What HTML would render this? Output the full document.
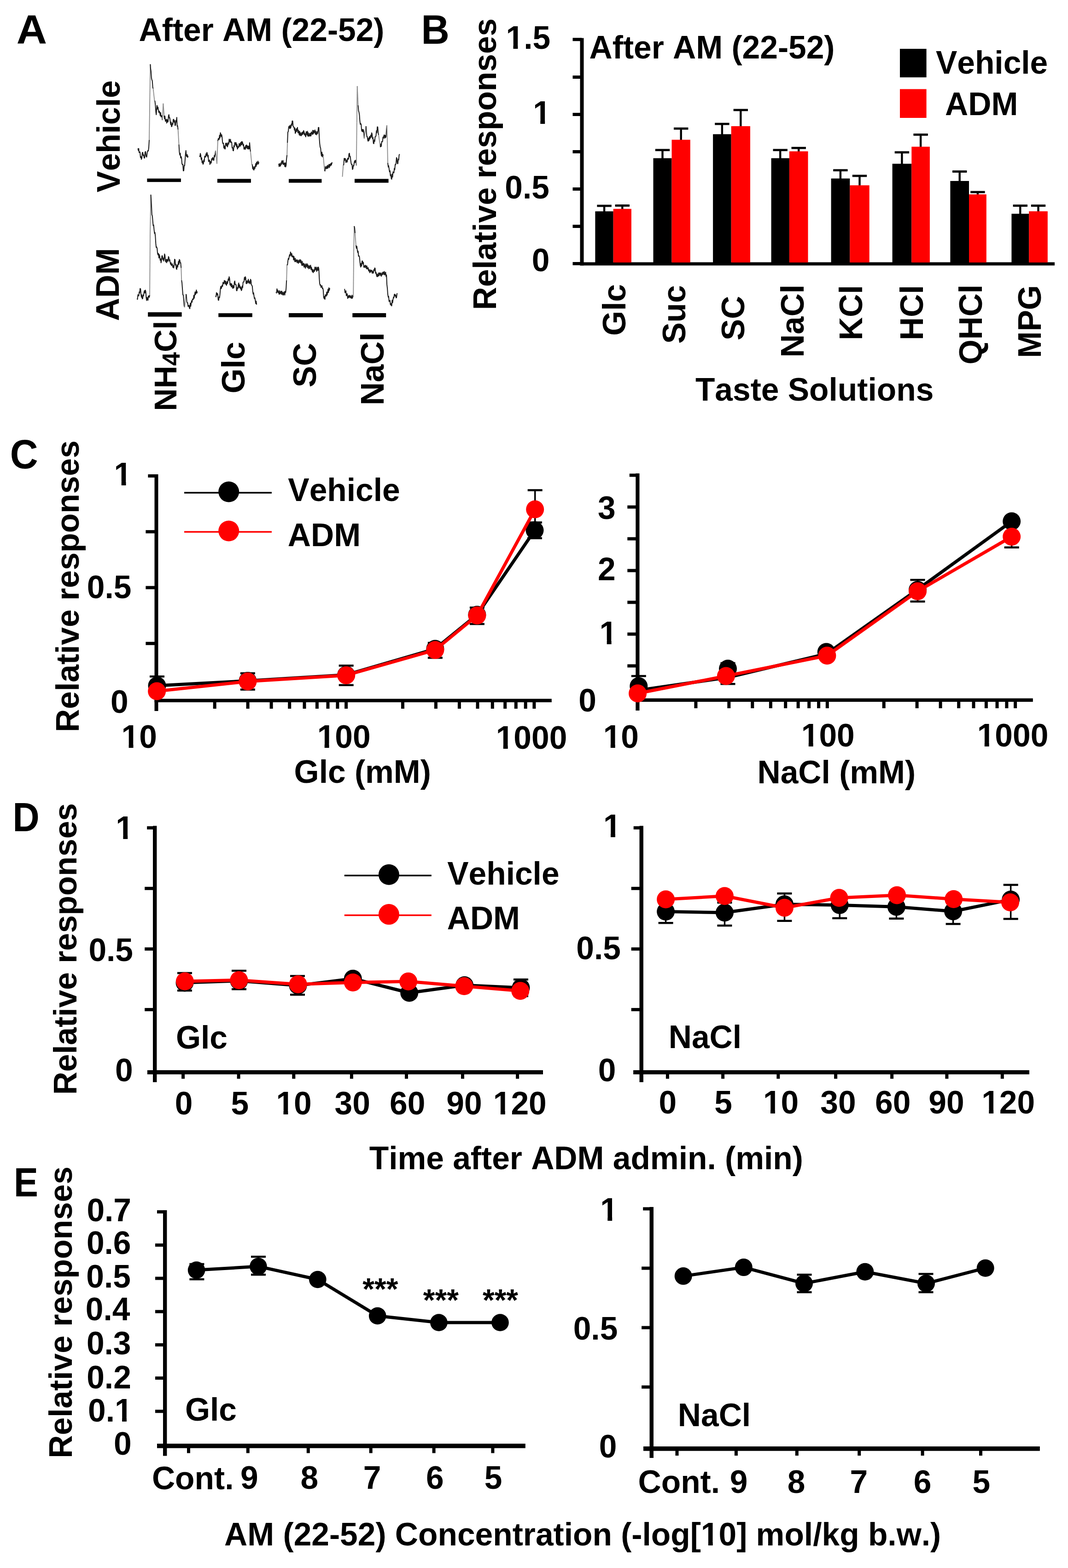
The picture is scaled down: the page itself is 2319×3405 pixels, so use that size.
<!DOCTYPE html>
<html><head><meta charset="utf-8"><style>
html,body{margin:0;padding:0;background:#fff;overflow:hidden;}
svg{display:block;}
text{font-family:"Liberation Sans",Arial,sans-serif;font-weight:bold;font-kerning:none;}
</style></head><body>
<svg width="2319" height="3405" viewBox="0 0 2319 3405">
<rect width="2319" height="3405" fill="#fff"/>
<text transform="translate(35.81,94.7) scale(1.0317,1)" font-size="89">A</text>
<text x="301.6" y="88.8" font-size="69.5" fill="#000">After AM (22-52)</text>
<text transform="translate(259.8,417.7) rotate(-90)" font-size="69.5">Vehicle</text>
<text transform="translate(257.5,696.9) rotate(-90)" font-size="69.5">ADM</text>
<polyline points="299.5,322.3 300.4,326.9 301.2,322.5 302.1,331.2 303.0,330.0 304.0,330.2 305.0,341.9 306.0,339.8 307.0,346.0 308.0,343.0 309.0,331.5 310.0,331.0 311.0,337.8 312.0,336.3 313.0,343.0 314.0,343.3 315.0,330.3 316.0,329.0 317.2,339.5 318.5,341.0 319.8,330.6 321.0,327.0 322.0,327.9 323.0,321.0 324.0,304.0" fill="none" stroke="#1a1a1a" stroke-width="2.0" stroke-linejoin="round"/>
<polyline points="324.0,304.0 326.4,139.5" fill="none" stroke="#8a8a8a" stroke-width="1.8" stroke-linejoin="round"/>
<polyline points="326.4,139.5 327.0,149.0 327.9,154.7 328.9,169.3 329.8,173.6 330.7,175.3 331.7,189.8 332.6,192.5" fill="none" stroke="#1a1a1a" stroke-width="2.0" stroke-linejoin="round"/>
<polyline points="332.6,192.5 335.5,219.0" fill="none" stroke="#8a8a8a" stroke-width="1.8" stroke-linejoin="round"/>
<polyline points="335.5,219.0 336.4,219.5 337.4,228.5 338.4,242.8 339.3,249.0 340.1,236.8 341.0,229.0 342.0,236.9 343.0,232.6 344.0,240.0 345.0,244.6 346.0,241.2 347.0,245.0 347.9,251.1 348.8,244.6 349.7,253.7 350.6,251.0 351.6,251.4 352.5,261.0" fill="none" stroke="#1a1a1a" stroke-width="2.0" stroke-linejoin="round"/>
<polyline points="352.5,261.0 354.4,224.8" fill="none" stroke="#8a8a8a" stroke-width="1.8" stroke-linejoin="round"/>
<polyline points="354.4,224.8 356.3,251.0" fill="none" stroke="#8a8a8a" stroke-width="1.8" stroke-linejoin="round"/>
<polyline points="356.3,251.0 357.2,258.1 358.1,252.2 359.1,263.2 360.0,263.0 361.0,259.1 362.0,267.3 363.0,259.7 364.0,265.0 364.9,264.3 365.8,252.0 366.7,249.0 367.7,256.1 368.6,255.7 369.6,263.0 370.6,270.6 371.5,265.2 372.4,275.1 373.4,274.0 374.3,267.3 375.3,270.0 376.2,259.6 377.2,259.0 378.1,265.3 379.1,261.7 380.1,272.5 381.0,272.0 381.9,261.6 382.9,264.7 383.8,255.0 384.7,274.0 385.6,273.0 386.6,281.6" fill="none" stroke="#1a1a1a" stroke-width="2.0" stroke-linejoin="round"/>
<polyline points="386.6,281.6 388.5,313.8" fill="none" stroke="#8a8a8a" stroke-width="1.8" stroke-linejoin="round"/>
<polyline points="388.5,313.8 389.4,329.8 390.4,336.6 391.4,332.8 392.3,342.9 393.3,340.0 394.2,343.3 395.2,356.2 396.1,357.4 397.1,356.9 398.0,371.0 399.0,370.7 399.9,359.4 400.9,359.7 401.8,348.0 402.8,334.9 403.7,327.0 404.6,338.0 405.6,340.0 406.5,335.7 407.5,341.8 408.4,338.4" fill="none" stroke="#1a1a1a" stroke-width="2.0" stroke-linejoin="round"/>
<polyline points="433.1,338.4 434.1,340.3 435.0,333.2 436.0,337.5 436.9,346.3 437.9,342.8 438.8,353.3 439.8,349.5 440.7,356.5 441.6,355.7 442.6,347.2 443.5,351.1 444.5,339.0 445.4,340.4 446.3,341.2 447.3,333.9 448.2,338.5 449.2,330.9 450.1,333.7 451.1,340.7 452.0,337.1 452.9,350.7 453.9,349.8 454.8,347.5 455.8,357.2 456.8,350.5 457.7,354.6 458.6,353.8 459.6,344.7 460.6,347.5 461.5,342.3 462.4,342.6 463.4,348.0 464.3,347.9 465.3,337.5 466.2,340.5 467.2,334.7 468.1,327.0" fill="none" stroke="#1a1a1a" stroke-width="2.0" stroke-linejoin="round"/>
<polyline points="468.1,327.0 471.0,355.5" fill="none" stroke="#8a8a8a" stroke-width="1.8" stroke-linejoin="round"/>
<polyline points="471.0,355.5 472.9,306.2" fill="none" stroke="#8a8a8a" stroke-width="1.8" stroke-linejoin="round"/>
<polyline points="472.9,306.2 473.9,301.3 474.8,300.6 475.7,303.3 476.7,293.8 477.6,299.7 478.6,288.2 479.5,291.0 480.4,296.7 481.4,292.8 482.3,298.7 483.2,308.9 484.2,311.9 485.1,310.8 486.1,321.4 487.1,316.8 488.0,323.3 489.0,323.4 489.9,310.9 490.9,311.9 491.8,316.4 492.8,310.5 493.8,318.9 494.7,315.7 495.6,310.1 496.6,312.9 497.6,302.2 498.5,304.3 499.4,308.8 500.4,302.6 501.3,309.2 502.2,308.1 503.1,309.6 504.1,321.3 505.1,320.2 506.0,327.0 507.0,327.4 507.9,316.3 508.9,319.0 509.8,309.5 510.8,310.0 511.8,315.3 512.7,309.8 513.6,318.8 514.6,313.5 515.5,323.7 516.5,321.4 517.4,317.4 518.4,319.8 519.3,311.7 520.2,313.8 521.2,318.1 522.1,310.0 523.1,315.5 524.0,307.9 525.0,314.0 525.9,307.5 526.9,310.0 527.9,316.3 528.8,313.5 529.8,323.8 530.7,323.3 531.7,319.4 532.6,324.5 533.5,316.1 534.5,321.6 535.5,314.8 536.4,317.6 537.3,322.9 538.3,316.9 539.2,323.7 540.2,317.7 541.1,323.3 542.0,310.0 543.0,322.2 543.9,329.0" fill="none" stroke="#1a1a1a" stroke-width="2.0" stroke-linejoin="round"/>
<polyline points="543.9,329.0 546.8,357.4" fill="none" stroke="#8a8a8a" stroke-width="1.8" stroke-linejoin="round"/>
<polyline points="546.8,357.4 547.8,357.7 548.7,366.4 549.6,361.9 550.6,368.8 551.5,369.2 552.5,362.0 553.4,366.1 554.3,361.2 555.3,355.2 556.2,361.5 557.2,352.1 558.1,357.6 559.1,353.6 560.1,350.0 561.0,356.3 562.0,351.7" fill="none" stroke="#1a1a1a" stroke-width="2.0" stroke-linejoin="round"/>
<polyline points="605.2,355.5 606.1,361.7 607.1,355.3 608.0,360.2 608.9,360.8 609.9,353.7 610.8,357.5 611.8,349.3 612.7,349.8 613.7,355.9 614.6,348.6 615.5,357.4 616.5,356.5 617.5,354.0 618.4,361.7 619.4,353.7 620.3,362.4 621.3,358.4 622.2,344.5 623.2,336.6" fill="none" stroke="#1a1a1a" stroke-width="2.0" stroke-linejoin="round"/>
<polyline points="623.2,336.6 624.1,310.0" fill="none" stroke="#8a8a8a" stroke-width="1.8" stroke-linejoin="round"/>
<polyline points="624.1,310.0 625.0,287.3 626.0,285.3 626.9,275.6 627.9,274.0 628.9,278.9 629.8,272.1 630.8,278.5 631.7,275.9 632.7,269.3 633.6,272.6 634.5,262.8 635.5,262.7 636.5,274.1 637.4,275.9 638.3,275.7 639.3,282.5 640.2,277.9 641.2,289.7 642.1,287.3 643.1,279.8 644.0,285.5 645.0,279.7 645.9,276.7 646.9,288.3 647.8,282.7 648.7,287.3 649.7,292.7 650.6,285.1 651.6,294.7 652.5,288.3 653.5,293.0 654.4,294.8 655.4,287.8 656.3,292.4 657.3,286.5 658.2,291.3 659.2,283.6 660.1,285.4 661.1,293.0 662.0,289.6 663.0,294.9 663.9,297.1 664.9,285.8 665.8,287.3 666.8,293.3 667.7,285.1 668.6,295.8 669.6,288.6 670.5,295.7 671.5,294.9 672.5,289.7 673.4,295.5 674.4,289.2 675.3,295.1 676.2,286.6 677.2,289.2 678.2,291.8 679.1,283.1 680.0,291.1 681.0,283.6 682.0,288.8 682.9,285.4 683.8,282.2 684.8,291.7 685.7,285.3 686.6,291.1 687.5,292.7 688.5,285.7 689.5,290.4 690.4,285.4 691.3,276.7 692.3,276.9 693.3,298.7 694.2,311.6 695.2,319.5 696.2,321.7 697.1,332.7 698.0,338.6 699.0,330.6 699.9,340.6 700.9,335.2 701.8,338.4" fill="none" stroke="#1a1a1a" stroke-width="2.0" stroke-linejoin="round"/>
<polyline points="701.8,338.4 704.6,368.8" fill="none" stroke="#8a8a8a" stroke-width="1.8" stroke-linejoin="round"/>
<polyline points="704.6,368.8 705.6,371.4 706.5,361.7 707.5,365.0 708.5,366.5 709.4,360.9 710.4,365.9 711.3,358.9 712.2,365.1 713.2,361.2 714.3,357.0 715.3,363.9 716.4,356.7 717.5,360.1 718.5,354.7 719.6,358.6 720.6,353.2 721.7,354.6" fill="none" stroke="#1a1a1a" stroke-width="2.0" stroke-linejoin="round"/>
<polyline points="743.5,383.9 745.4,357.4" fill="none" stroke="#8a8a8a" stroke-width="1.8" stroke-linejoin="round"/>
<polyline points="745.4,357.4 746.3,357.9 747.3,344.0 748.2,344.1 749.2,348.3 750.1,344.4 751.0,352.7 752.0,351.7 753.0,347.3 753.9,351.9 754.8,343.5 755.8,346.0 756.8,345.4 757.7,334.1 758.7,332.8 759.6,340.4 760.6,339.9 761.5,348.0 762.5,355.1 763.4,357.4 764.3,356.9 765.3,367.9 766.2,366.9 767.2,359.3 768.1,360.3 769.1,353.6 770.0,349.2 771.0,353.0 771.9,348.0 772.8,349.8 773.8,359.3" fill="none" stroke="#1a1a1a" stroke-width="2.0" stroke-linejoin="round"/>
<polyline points="773.8,359.3 774.8,266.4" fill="none" stroke="#8a8a8a" stroke-width="1.8" stroke-linejoin="round"/>
<polyline points="774.8,266.4 775.7,186.9" fill="none" stroke="#8a8a8a" stroke-width="1.8" stroke-linejoin="round"/>
<polyline points="775.7,186.9 777.6,228.5" fill="none" stroke="#8a8a8a" stroke-width="1.8" stroke-linejoin="round"/>
<polyline points="777.6,228.5 778.5,240.4 779.5,243.7 780.5,250.1 781.4,262.7 782.3,269.9 783.3,268.3 784.2,270.1 785.2,283.0 786.1,285.4 787.1,281.0 788.0,286.4 789.0,281.6 790.0,287.0 790.9,300.6" fill="none" stroke="#1a1a1a" stroke-width="2.0" stroke-linejoin="round"/>
<polyline points="790.9,300.6 794.7,274.0" fill="none" stroke="#8a8a8a" stroke-width="1.8" stroke-linejoin="round"/>
<polyline points="794.7,274.0 795.7,288.7 796.6,296.8 797.5,296.5 798.5,304.3 799.4,306.7 800.4,299.7 801.3,305.1 802.2,296.5 803.2,301.8 804.1,298.7 805.0,293.5 806.0,298.2 807.0,288.4 807.9,291.1 808.9,301.1 809.8,298.4 810.8,311.4 811.7,311.9 812.7,303.8 813.6,307.1 814.5,297.2 815.5,296.8 816.4,295.0 817.4,284.0 818.3,288.2 819.3,275.4 820.2,275.9 821.2,288.8 822.1,293.0" fill="none" stroke="#1a1a1a" stroke-width="2.0" stroke-linejoin="round"/>
<polyline points="822.1,293.0 825.9,319.5" fill="none" stroke="#8a8a8a" stroke-width="1.8" stroke-linejoin="round"/>
<polyline points="825.9,319.5 826.9,312.6 827.8,318.0 828.8,307.3 829.7,308.1 830.7,307.1 831.6,297.7 832.5,300.2 833.5,294.9 834.4,292.8 835.4,300.0 836.3,293.9 837.3,298.7 838.2,296.8 839.2,282.2 840.1,272.1" fill="none" stroke="#1a1a1a" stroke-width="2.0" stroke-linejoin="round"/>
<polyline points="840.1,272.1 841.1,310.0" fill="none" stroke="#8a8a8a" stroke-width="1.8" stroke-linejoin="round"/>
<polyline points="841.1,310.0 842.0,353.6" fill="none" stroke="#8a8a8a" stroke-width="1.8" stroke-linejoin="round"/>
<polyline points="842.0,353.6 843.0,362.7 843.9,359.9 844.9,366.9 845.8,373.1 846.8,370.7 847.7,381.7 848.7,379.0 849.6,387.7 850.5,389.1 851.5,377.9 852.4,384.6 853.4,373.3 854.3,374.4 855.3,375.4 856.2,365.5 857.2,368.5 858.1,357.3 859.1,357.4 860.0,353.9 861.0,342.2 861.9,344.3 862.9,355.3 863.8,355.5 864.8,345.5 865.7,347.3 866.6,336.9 867.6,334.7" fill="none" stroke="#1a1a1a" stroke-width="2.0" stroke-linejoin="round"/>
<polyline points="297.6,648.2 298.5,650.0 299.5,640.0 300.4,642.6 301.4,642.3 302.3,634.0 303.3,636.2 304.2,626.6 305.2,627.4 306.1,638.8 307.1,645.4 308.0,640.3 308.9,649.0 309.9,648.2 310.8,640.6 311.8,642.5 312.7,635.0 313.6,631.3 314.6,636.3 315.6,630.1 316.5,633.1 317.5,646.4 318.4,652.6 319.4,645.7 320.3,650.2 321.3,651.9 322.2,642.7 323.2,642.6 324.1,645.7 325.1,640.7" fill="none" stroke="#1a1a1a" stroke-width="2.0" stroke-linejoin="round"/>
<polyline points="325.1,640.7 326.0,509.9" fill="none" stroke="#8a8a8a" stroke-width="1.8" stroke-linejoin="round"/>
<polyline points="326.0,509.9 327.5,422.7" fill="none" stroke="#8a8a8a" stroke-width="1.8" stroke-linejoin="round"/>
<polyline points="327.5,422.7 328.8,443.6 329.8,466.3 330.8,468.7 331.7,479.6 332.6,489.9 333.6,488.6 334.5,498.5 335.5,507.0 336.4,504.7 337.4,513.7 338.3,528.9 339.2,537.3 340.2,536.4 341.2,539.7 342.1,550.1 343.1,553.5 344.1,550.2 345.0,560.1 345.9,552.8 346.9,557.3 347.8,565.1 348.8,562.0 349.7,570.6 350.6,565.6 351.6,555.4 352.6,555.4 353.5,563.7 354.4,560.2 355.4,566.8 356.4,562.1 357.3,551.6 358.2,554.6 359.2,567.1 360.1,568.7 361.1,563.4 362.0,570.6 362.9,563.2 363.9,566.8 364.8,567.5 365.8,557.2 366.7,559.2 367.7,566.8 368.6,564.0 369.6,570.6 370.6,574.2 371.5,570.4 372.4,576.8 373.4,574.3 374.3,573.1 375.3,580.6 376.2,576.9 377.2,581.9 378.1,575.4 379.1,563.0 380.1,563.9 381.0,575.8 381.9,573.6 382.9,583.8 383.8,584.9 384.8,575.3 385.7,580.1 386.6,574.3 387.6,567.4 388.5,574.1 389.4,563.6 390.4,564.9 391.4,571.2 392.3,570.6 393.3,581.9" fill="none" stroke="#1a1a1a" stroke-width="2.0" stroke-linejoin="round"/>
<polyline points="393.3,581.9 394.2,608.5" fill="none" stroke="#8a8a8a" stroke-width="1.8" stroke-linejoin="round"/>
<polyline points="394.2,608.5 395.1,613.8 396.1,627.4 397.1,640.2 398.0,640.6 399.0,652.0 399.9,663.8 400.9,667.2" fill="none" stroke="#1a1a1a" stroke-width="2.0" stroke-linejoin="round"/>
<polyline points="400.9,667.2 403.7,638.8" fill="none" stroke="#8a8a8a" stroke-width="1.8" stroke-linejoin="round"/>
<polyline points="403.7,638.8 404.6,640.2 405.6,654.8 406.5,657.7 407.5,657.5 408.4,665.5 409.4,665.3 410.4,663.0 411.3,669.1 412.2,670.3 413.2,658.5 414.2,665.1 415.1,657.7 416.1,653.1 417.0,656.5 417.9,649.3 418.9,650.2 419.8,650.4 420.8,641.3 421.7,647.7 422.6,640.7 423.6,634.1 424.5,639.7 425.5,635.0 426.4,629.8 427.4,636.7 428.3,633.1" fill="none" stroke="#1a1a1a" stroke-width="2.0" stroke-linejoin="round"/>
<polyline points="468.1,642.6 469.1,644.4 470.0,635.6 470.9,640.6 471.9,636.9 472.9,639.7 473.8,651.5 474.8,652.0 475.7,644.7 476.7,646.3 477.6,638.8 478.6,626.5 479.5,621.7 480.4,626.7 481.4,623.6 482.3,619.2 483.3,621.9 484.2,613.2 485.2,614.1 486.1,616.3 487.1,608.9 488.0,610.3 489.0,616.6 489.9,610.5 490.9,617.9 491.8,619.6 492.8,611.4 493.8,616.0 494.7,612.2 495.6,605.6 496.6,608.7 497.5,600.9 498.5,604.9 499.4,618.2 500.4,619.8 501.3,615.5 502.2,623.0 503.2,616.4 504.1,621.7 505.1,626.1 506.0,619.9 507.0,625.5 507.9,624.7 508.9,612.5 509.8,610.3 510.8,618.1 511.7,617.9 512.7,618.4 513.6,631.2 514.6,631.2 515.5,624.0 516.5,626.6 517.4,617.9 518.4,614.4 519.3,624.8 520.2,618.6 521.2,623.6 522.2,627.4 523.1,623.0 524.0,630.9 525.0,629.3 526.0,620.9 526.9,624.8 527.8,612.8 528.8,612.2 529.8,611.9 530.7,602.6 531.6,607.6 532.6,600.9 533.5,603.4 534.5,615.6 535.4,616.0 536.3,610.1 537.3,614.6 538.2,610.3 539.2,606.5 540.1,614.6 541.0,610.2 542.0,614.1 543.0,616.4 543.9,606.6 544.9,608.5 545.8,617.8 546.8,619.8 547.8,621.6 548.7,631.2 549.6,638.4 550.6,635.9 551.5,642.6 552.4,648.3 553.4,646.7 554.3,652.0 555.3,659.3 556.2,654.1 557.2,661.5" fill="none" stroke="#1a1a1a" stroke-width="2.0" stroke-linejoin="round"/>
<polyline points="599.5,634.0 600.4,636.4 601.4,627.2 602.3,630.2 603.3,635.2 604.2,631.2 605.2,635.9 606.2,639.1 607.1,631.3 608.0,638.0 609.0,635.9 609.9,632.6 610.9,639.1 611.8,632.3 612.7,636.9 613.7,640.2 614.6,634.4 615.5,640.8 616.5,637.8 617.5,633.5 618.4,640.7 619.3,632.6 620.3,635.0 621.3,625.5 622.2,608.5" fill="none" stroke="#1a1a1a" stroke-width="2.0" stroke-linejoin="round"/>
<polyline points="622.2,608.5 623.2,574.3" fill="none" stroke="#8a8a8a" stroke-width="1.8" stroke-linejoin="round"/>
<polyline points="623.2,574.3 624.2,575.1 625.1,566.8 626.0,561.3 627.0,563.3 627.9,557.3 628.9,553.1 629.8,555.8 630.8,547.3 631.7,549.7 632.7,555.8 633.6,550.9 634.5,558.0 635.5,557.3 636.5,555.5 637.4,564.4 638.3,557.1 639.3,563.0 640.2,568.2 641.2,561.1 642.1,568.3 643.1,566.8 644.0,564.1 645.0,570.3 646.0,564.6 646.9,568.7 647.8,571.9 648.8,565.1 649.7,570.0 650.6,566.8 651.5,563.4 652.5,570.8 653.5,565.2 654.4,570.6 655.4,576.2 656.3,567.6 657.2,576.5 658.2,574.3 659.2,571.6 660.1,579.9 661.0,573.2 662.0,578.1 663.0,582.6 663.9,573.1 664.8,579.6 665.8,576.2 666.8,572.6 667.7,581.6 668.6,575.2 669.6,580.0 670.5,583.7 671.5,577.0 672.5,582.9 673.4,578.1 674.4,576.0 675.3,585.4 676.2,580.2 677.2,585.7 678.2,590.0 679.1,585.0 680.0,592.1 681.0,589.5 682.0,585.5 682.9,589.2 683.8,579.9 684.8,581.9 685.7,586.2 686.6,580.1 687.6,589.6 688.5,585.7 689.5,580.5 690.4,587.2 691.3,579.9 692.3,583.8 693.3,604.7 694.2,616.1 695.2,619.8 696.1,618.3 697.1,624.1 698.0,621.7 699.0,620.3 699.9,626.5 700.9,625.5 701.8,629.5 702.8,645.4 703.7,648.2 704.7,643.8 705.6,650.0 706.5,639.9 707.5,642.6 708.5,643.1 709.4,634.2 710.3,640.7 711.3,635.0 712.2,628.3 713.2,635.3 714.1,625.1 715.1,630.4 716.0,625.5" fill="none" stroke="#1a1a1a" stroke-width="2.0" stroke-linejoin="round"/>
<polyline points="748.2,627.4 749.2,635.6 750.1,635.0 751.1,631.5 752.0,642.1 753.0,638.8 753.9,638.0 754.9,648.1 755.8,646.4 756.8,641.7 757.7,646.2 758.7,642.6 759.6,641.4 760.5,646.7 761.5,642.8 762.4,646.4 763.4,647.9 764.3,641.0 765.2,647.6 766.2,642.6 767.2,644.5" fill="none" stroke="#1a1a1a" stroke-width="2.0" stroke-linejoin="round"/>
<polyline points="767.2,644.5 768.1,547.8" fill="none" stroke="#8a8a8a" stroke-width="1.8" stroke-linejoin="round"/>
<polyline points="768.1,547.8 769.1,491.0" fill="none" stroke="#8a8a8a" stroke-width="1.8" stroke-linejoin="round"/>
<polyline points="769.1,491.0 770.0,494.9 771.0,506.1" fill="none" stroke="#1a1a1a" stroke-width="2.0" stroke-linejoin="round"/>
<polyline points="771.0,506.1 772.9,532.7" fill="none" stroke="#8a8a8a" stroke-width="1.8" stroke-linejoin="round"/>
<polyline points="772.9,532.7 773.8,539.1 774.8,535.0 775.7,542.1 776.7,548.3 777.6,545.4 778.5,556.3 779.5,555.4 780.5,557.9 781.4,566.8 782.3,575.9 783.3,580.0 784.2,572.0 785.2,577.6 786.1,567.0 787.1,566.8 788.0,573.2 789.0,569.8 790.0,580.5 790.9,580.0 791.9,576.9 792.8,581.1 793.8,575.9 794.7,578.1 795.7,583.4 796.6,577.6 797.5,584.3 798.5,581.9 799.4,581.2 800.4,588.3 801.3,585.1 802.2,589.5 803.2,592.2 804.1,586.0 805.0,590.2 806.0,587.6 807.0,586.7 807.9,593.0 808.8,588.4 809.8,593.3 810.8,592.6 811.7,585.5 812.6,588.1 813.6,581.9 814.5,582.5 815.5,593.6 816.5,591.1 817.4,597.1 818.4,600.8 819.3,594.9 820.2,600.6 821.2,599.0 822.2,592.7 823.1,598.8 824.0,592.4 825.0,593.3 826.0,597.7 826.9,592.7 827.8,600.0 828.8,597.1 829.8,592.6 830.7,596.6 831.6,590.7 832.6,591.4 833.5,596.1 834.5,589.5 835.5,597.2 836.4,593.3 837.3,591.2 838.3,600.6 839.2,597.1 840.1,617.9 841.0,625.4 842.0,638.8 843.0,645.3 843.9,643.6 844.8,654.6 845.8,653.9 846.8,652.4 847.7,661.7 848.6,658.7 849.6,663.4 850.5,664.1 851.5,651.9 852.5,657.3 853.4,650.2 854.4,645.3 855.3,646.6 856.2,639.4 857.2,638.8 858.2,643.2 859.1,640.5 860.0,646.7 861.0,646.4 862.0,637.7 862.9,636.9" fill="none" stroke="#1a1a1a" stroke-width="2.0" stroke-linejoin="round"/>
<rect x="319.4" y="387.7" width="73.5" height="7.5" fill="#000"/>
<rect x="471.9" y="388.5" width="73.0" height="8.3" fill="#000"/>
<rect x="627.0" y="388.7" width="71.4" height="8.1" fill="#000"/>
<rect x="770.0" y="388.5" width="73.6" height="8.3" fill="#000"/>
<rect x="321.2" y="678.1" width="73.4" height="9.5" fill="#000"/>
<rect x="474.3" y="680.2" width="73.5" height="8.3" fill="#000"/>
<rect x="627.0" y="680.0" width="73.9" height="9.0" fill="#000"/>
<rect x="765.3" y="680.0" width="72.9" height="9.0" fill="#000"/>
<text transform="translate(382.7,892.4) rotate(-90)" font-size="68">NH<tspan font-size="53" dy="7">4</tspan><tspan dy="-7">Cl</tspan></text>
<text transform="translate(530.9,854.2) rotate(-90)" font-size="69.5">Glc</text>
<text transform="translate(685.5,841.2) rotate(-90)" font-size="69.5">SC</text>
<text transform="translate(833.2,880.3) rotate(-90)" font-size="69.5">NaCl</text>
<text transform="translate(914.52,94.8) scale(0.9543,1)" font-size="89">B</text>
<rect x="1259.5" y="82.6" width="8.0" height="493.9" fill="#000"/>
<rect x="1259.5" y="569.5" width="1030.5" height="7.0" fill="#000"/>
<rect x="1243.5" y="569.0" width="19.5" height="7.0" fill="#000"/>
<rect x="1243.5" y="488.0" width="19.5" height="7.0" fill="#000"/>
<rect x="1243.5" y="407.0" width="19.5" height="7.0" fill="#000"/>
<rect x="1243.5" y="326.0" width="19.5" height="7.0" fill="#000"/>
<rect x="1243.5" y="245.0" width="19.5" height="7.0" fill="#000"/>
<rect x="1243.5" y="164.0" width="19.5" height="7.0" fill="#000"/>
<rect x="1243.5" y="82.2" width="19.5" height="7.0" fill="#000"/>
<text x="1098.5" y="106.0" font-size="69.5" fill="#000">1.5</text>
<text x="1157.2" y="269.0" font-size="69.5" fill="#000">1</text>
<text x="1096.3" y="431.2" font-size="69.5" fill="#000">0.5</text>
<text x="1154.7" y="589.0" font-size="69.5" fill="#000">0</text>
<text transform="translate(1077.3,673.3) rotate(-90)" font-size="69.5">Relative responses</text>
<text x="1279.6" y="126.5" font-size="69.5" fill="#000">After AM (22-52)</text>
<rect x="1954.0" y="106.0" width="57.6" height="62.0" fill="#000"/>
<rect x="1954.0" y="193.5" width="57.6" height="62.5" fill="#ff0000"/>
<text x="2031.9" y="160.0" font-size="69.5" fill="#000">Vehicle</text>
<text x="2052.0" y="249.9" font-size="69.5" fill="#000">ADM</text>
<rect x="1309.9" y="447.0" width="4.4" height="12.9" fill="#000"/>
<rect x="1296.4" y="444.6" width="31.4" height="4.8" fill="#000"/>
<rect x="1292.4" y="458.9" width="39.3" height="111.1" fill="#000"/>
<rect x="1349.1" y="446.4" width="4.4" height="8.2" fill="#000"/>
<rect x="1335.6" y="444.0" width="31.4" height="4.8" fill="#000"/>
<rect x="1331.7" y="453.6" width="39.2" height="116.4" fill="#ff0000"/>
<rect x="1436.3" y="325.8" width="4.4" height="18.7" fill="#000"/>
<rect x="1422.8" y="323.4" width="31.4" height="4.8" fill="#000"/>
<rect x="1418.5" y="343.5" width="40.0" height="226.5" fill="#000"/>
<rect x="1476.5" y="279.2" width="4.4" height="25.3" fill="#000"/>
<rect x="1463.0" y="276.8" width="31.4" height="4.8" fill="#000"/>
<rect x="1458.5" y="303.5" width="40.3" height="266.5" fill="#ff0000"/>
<rect x="1565.7" y="269.1" width="4.4" height="23.3" fill="#000"/>
<rect x="1552.2" y="266.7" width="31.4" height="4.8" fill="#000"/>
<rect x="1548.1" y="291.4" width="39.6" height="278.6" fill="#000"/>
<rect x="1606.1" y="238.9" width="4.4" height="36.1" fill="#000"/>
<rect x="1592.6" y="236.5" width="31.4" height="4.8" fill="#000"/>
<rect x="1587.7" y="274.0" width="41.3" height="296.0" fill="#ff0000"/>
<rect x="1692.0" y="325.8" width="4.4" height="18.7" fill="#000"/>
<rect x="1678.5" y="323.4" width="31.4" height="4.8" fill="#000"/>
<rect x="1674.6" y="343.5" width="39.3" height="226.5" fill="#000"/>
<rect x="1732.0" y="321.3" width="4.4" height="8.3" fill="#000"/>
<rect x="1718.5" y="318.9" width="31.4" height="4.8" fill="#000"/>
<rect x="1713.9" y="328.6" width="40.6" height="241.4" fill="#ff0000"/>
<rect x="1822.7" y="369.7" width="4.4" height="18.9" fill="#000"/>
<rect x="1809.2" y="367.3" width="31.4" height="4.8" fill="#000"/>
<rect x="1804.6" y="387.6" width="40.7" height="182.4" fill="#000"/>
<rect x="1864.3" y="381.9" width="4.4" height="21.5" fill="#000"/>
<rect x="1850.8" y="379.5" width="31.4" height="4.8" fill="#000"/>
<rect x="1845.3" y="402.4" width="42.4" height="167.6" fill="#ff0000"/>
<rect x="1956.2" y="330.8" width="4.4" height="25.8" fill="#000"/>
<rect x="1942.7" y="328.4" width="31.4" height="4.8" fill="#000"/>
<rect x="1937.6" y="355.6" width="41.7" height="214.4" fill="#000"/>
<rect x="1996.9" y="292.4" width="4.4" height="27.2" fill="#000"/>
<rect x="1983.4" y="290.0" width="31.4" height="4.8" fill="#000"/>
<rect x="1979.3" y="318.6" width="39.6" height="251.4" fill="#ff0000"/>
<rect x="2081.5" y="372.5" width="4.4" height="21.5" fill="#000"/>
<rect x="2068.0" y="370.1" width="31.4" height="4.8" fill="#000"/>
<rect x="2063.4" y="393.0" width="40.6" height="177.0" fill="#000"/>
<rect x="2120.7" y="417.1" width="4.4" height="6.0" fill="#000"/>
<rect x="2107.2" y="414.7" width="31.4" height="4.8" fill="#000"/>
<rect x="2104.0" y="422.1" width="37.8" height="147.9" fill="#ff0000"/>
<rect x="2213.1" y="446.6" width="4.4" height="18.6" fill="#000"/>
<rect x="2199.6" y="444.2" width="31.4" height="4.8" fill="#000"/>
<rect x="2196.4" y="464.2" width="37.8" height="105.8" fill="#000"/>
<rect x="2252.3" y="446.6" width="4.4" height="13.2" fill="#000"/>
<rect x="2238.8" y="444.2" width="31.4" height="4.8" fill="#000"/>
<rect x="2234.2" y="458.8" width="40.6" height="111.2" fill="#ff0000"/>
<text transform="translate(1358.4,728.9) rotate(-90)" font-size="69.5">Glc</text>
<text transform="translate(1488.0,746.6) rotate(-90)" font-size="69.5">Suc</text>
<text transform="translate(1615.5,739.2) rotate(-90)" font-size="69.5">SC</text>
<text transform="translate(1745.1,776.2) rotate(-90)" font-size="69.5">NaCl</text>
<text transform="translate(1872.2,738.9) rotate(-90)" font-size="69.5">KCl</text>
<text transform="translate(2004.1,738.9) rotate(-90)" font-size="69.5">HCl</text>
<text transform="translate(2131.7,791.6) rotate(-90)" font-size="69.5">QHCl</text>
<text transform="translate(2260.4,777.4) rotate(-90)" font-size="69.5">MPG</text>
<text x="1509.9" y="870.0" font-size="69.5" fill="#000">Taste Solutions</text>
<text transform="translate(21.84,1016.8) scale(0.9469,1)" font-size="89">C</text>
<rect x="335.5" y="1030.0" width="8.0" height="514.0" fill="#000"/>
<rect x="335.5" y="1517.5" width="862.3" height="7.5" fill="#000"/>
<rect x="321.4" y="1030.0" width="18.1" height="7.0" fill="#000"/>
<rect x="316.4" y="1151.2" width="23.1" height="7.0" fill="#000"/>
<rect x="316.4" y="1272.5" width="23.1" height="7.0" fill="#000"/>
<rect x="316.4" y="1393.8" width="23.1" height="7.0" fill="#000"/>
<rect x="462.7" y="1521.0" width="7.0" height="18.0" fill="#000"/>
<rect x="534.6" y="1521.0" width="7.0" height="18.0" fill="#000"/>
<rect x="585.6" y="1521.0" width="7.0" height="18.0" fill="#000"/>
<rect x="625.2" y="1521.0" width="7.0" height="18.0" fill="#000"/>
<rect x="657.5" y="1521.0" width="7.0" height="18.0" fill="#000"/>
<rect x="684.9" y="1521.0" width="7.0" height="18.0" fill="#000"/>
<rect x="708.5" y="1521.0" width="7.0" height="18.0" fill="#000"/>
<rect x="729.4" y="1521.0" width="7.0" height="18.0" fill="#000"/>
<rect x="748.1" y="1521.0" width="7.0" height="18.0" fill="#000"/>
<rect x="871.0" y="1521.0" width="7.0" height="18.0" fill="#000"/>
<rect x="942.9" y="1521.0" width="7.0" height="18.0" fill="#000"/>
<rect x="993.9" y="1521.0" width="7.0" height="18.0" fill="#000"/>
<rect x="1033.5" y="1521.0" width="7.0" height="18.0" fill="#000"/>
<rect x="1065.8" y="1521.0" width="7.0" height="18.0" fill="#000"/>
<rect x="1093.2" y="1521.0" width="7.0" height="18.0" fill="#000"/>
<rect x="1116.8" y="1521.0" width="7.0" height="18.0" fill="#000"/>
<rect x="1137.7" y="1521.0" width="7.0" height="18.0" fill="#000"/>
<rect x="1156.4" y="1521.0" width="7.0" height="18.0" fill="#000"/>
<text x="247.6" y="1054.2" font-size="69.5" fill="#000">1</text>
<text x="188.8" y="1298.8" font-size="69.5" fill="#000">0.5</text>
<text x="240.0" y="1547.5" font-size="69.5" fill="#000">0</text>
<text x="263.5" y="1624.3" font-size="69.5" fill="#000">10</text>
<text x="688.7" y="1623.7" font-size="69.5" fill="#000">100</text>
<text x="1076.7" y="1625.6" font-size="69.5" fill="#000">1000</text>
<text x="638.6" y="1699.5" font-size="69.5" fill="#000">Glc (mM)</text>
<text transform="translate(171.1,1589.9) rotate(-90)" font-size="69.5">Relative responses</text>
<line x1="400.0" y1="1070.0" x2="590.0" y2="1070.0" stroke="#000" stroke-width="3.5"/>
<circle cx="496.7" cy="1068.0" r="22.5" fill="#000"/>
<line x1="400.0" y1="1155.0" x2="590.0" y2="1155.0" stroke="#ff0000" stroke-width="3.5"/>
<circle cx="496.7" cy="1153.0" r="22.5" fill="#ff0000"/>
<text x="625.3" y="1088.3" font-size="69.5" fill="#000">Vehicle</text>
<text x="624.8" y="1186.3" font-size="69.5" fill="#000">ADM</text>
<rect x="339.2" y="1469.0" width="3.5" height="36.0" fill="#000"/>
<rect x="325.0" y="1466.8" width="32.0" height="4.5" fill="#000"/>
<rect x="325.0" y="1502.8" width="32.0" height="4.5" fill="#000"/>
<rect x="536.1" y="1462.0" width="3.5" height="35.5" fill="#000"/>
<rect x="521.9" y="1459.8" width="32.0" height="4.5" fill="#000"/>
<rect x="521.9" y="1495.2" width="32.0" height="4.5" fill="#000"/>
<rect x="750.0" y="1445.5" width="3.5" height="42.3" fill="#000"/>
<rect x="735.7" y="1443.2" width="32.0" height="4.5" fill="#000"/>
<rect x="735.7" y="1485.5" width="32.0" height="4.5" fill="#000"/>
<rect x="943.1" y="1396.0" width="3.5" height="32.5" fill="#000"/>
<rect x="928.9" y="1393.8" width="32.0" height="4.5" fill="#000"/>
<rect x="928.9" y="1426.2" width="32.0" height="4.5" fill="#000"/>
<rect x="1034.2" y="1319.5" width="3.5" height="35.5" fill="#000"/>
<rect x="1019.9" y="1317.2" width="32.0" height="4.5" fill="#000"/>
<rect x="1019.9" y="1352.8" width="32.0" height="4.5" fill="#000"/>
<rect x="1160.0" y="1064.4" width="3.5" height="85.6" fill="#000"/>
<rect x="1145.7" y="1062.2" width="32.0" height="4.5" fill="#000"/>
<rect x="1145.7" y="1147.8" width="32.0" height="4.5" fill="#000"/>
<rect x="1159.2" y="1134.6" width="3.5" height="34.1" fill="#000"/>
<rect x="1145.0" y="1132.3" width="32.0" height="4.5" fill="#000"/>
<rect x="1145.0" y="1166.5" width="32.0" height="4.5" fill="#000"/>
<polyline points="341.0,1489.0 537.9,1478.5 751.7,1465.5 944.9,1409.0 1035.9,1335.0 1161.0,1151.6" fill="none" stroke="#000" stroke-width="7" stroke-linejoin="round"/>
<circle cx="341.0" cy="1489.0" r="19.5" fill="#000"/>
<circle cx="537.9" cy="1478.5" r="19.5" fill="#000"/>
<circle cx="751.7" cy="1465.5" r="19.5" fill="#000"/>
<circle cx="944.9" cy="1409.0" r="19.5" fill="#000"/>
<circle cx="1035.9" cy="1335.0" r="19.5" fill="#000"/>
<circle cx="1161.0" cy="1151.6" r="19.5" fill="#000"/>
<polyline points="340.6,1501.0 537.9,1479.7 751.7,1466.4 944.9,1411.4 1035.9,1336.6 1161.7,1106.1" fill="none" stroke="#ff0000" stroke-width="7" stroke-linejoin="round"/>
<circle cx="340.6" cy="1501.0" r="19.5" fill="#ff0000"/>
<circle cx="537.9" cy="1479.7" r="19.5" fill="#ff0000"/>
<circle cx="751.7" cy="1466.4" r="19.5" fill="#ff0000"/>
<circle cx="944.9" cy="1411.4" r="19.5" fill="#ff0000"/>
<circle cx="1035.9" cy="1336.6" r="19.5" fill="#ff0000"/>
<circle cx="1161.7" cy="1106.1" r="19.5" fill="#ff0000"/>
<rect x="1380.3" y="1028.0" width="8.2" height="515.0" fill="#000"/>
<rect x="1380.3" y="1516.5" width="862.5" height="7.5" fill="#000"/>
<rect x="1362.3" y="1442.5" width="21.7" height="7.0" fill="#000"/>
<rect x="1362.3" y="1373.5" width="21.7" height="7.0" fill="#000"/>
<rect x="1362.3" y="1304.5" width="21.7" height="7.0" fill="#000"/>
<rect x="1362.3" y="1235.5" width="21.7" height="7.0" fill="#000"/>
<rect x="1362.3" y="1166.5" width="21.7" height="7.0" fill="#000"/>
<rect x="1362.3" y="1097.5" width="21.7" height="7.0" fill="#000"/>
<rect x="1366.8" y="1028.5" width="17.2" height="7.0" fill="#000"/>
<rect x="1507.4" y="1520.0" width="7.0" height="18.0" fill="#000"/>
<rect x="1579.3" y="1520.0" width="7.0" height="18.0" fill="#000"/>
<rect x="1630.3" y="1520.0" width="7.0" height="18.0" fill="#000"/>
<rect x="1669.9" y="1520.0" width="7.0" height="18.0" fill="#000"/>
<rect x="1702.2" y="1520.0" width="7.0" height="18.0" fill="#000"/>
<rect x="1729.6" y="1520.0" width="7.0" height="18.0" fill="#000"/>
<rect x="1753.2" y="1520.0" width="7.0" height="18.0" fill="#000"/>
<rect x="1774.1" y="1520.0" width="7.0" height="18.0" fill="#000"/>
<rect x="1792.8" y="1520.0" width="7.0" height="18.0" fill="#000"/>
<rect x="1915.7" y="1520.0" width="7.0" height="18.0" fill="#000"/>
<rect x="1987.6" y="1520.0" width="7.0" height="18.0" fill="#000"/>
<rect x="2038.6" y="1520.0" width="7.0" height="18.0" fill="#000"/>
<rect x="2078.2" y="1520.0" width="7.0" height="18.0" fill="#000"/>
<rect x="2110.5" y="1520.0" width="7.0" height="18.0" fill="#000"/>
<rect x="2137.9" y="1520.0" width="7.0" height="18.0" fill="#000"/>
<rect x="2161.5" y="1520.0" width="7.0" height="18.0" fill="#000"/>
<rect x="2182.4" y="1520.0" width="7.0" height="18.0" fill="#000"/>
<rect x="2201.1" y="1520.0" width="7.0" height="18.0" fill="#000"/>
<text x="1297.9" y="1126.6" font-size="69.5" fill="#000">3</text>
<text x="1298.1" y="1260.0" font-size="69.5" fill="#000">2</text>
<text x="1301.6" y="1398.5" font-size="69.5" fill="#000">1</text>
<text x="1256.2" y="1544.8" font-size="69.5" fill="#000">0</text>
<text x="1309.7" y="1623.8" font-size="69.5" fill="#000">10</text>
<text x="1739.8" y="1621.0" font-size="69.5" fill="#000">100</text>
<text x="2121.7" y="1621.0" font-size="69.5" fill="#000">1000</text>
<text x="1644.5" y="1701.2" font-size="69.5" fill="#000">NaCl (mM)</text>
<rect x="1385.0" y="1468.0" width="3.5" height="37.0" fill="#000"/>
<rect x="1370.8" y="1465.8" width="32.0" height="4.5" fill="#000"/>
<rect x="1370.8" y="1502.8" width="32.0" height="4.5" fill="#000"/>
<rect x="1578.8" y="1440.0" width="3.5" height="45.3" fill="#000"/>
<rect x="1564.5" y="1437.8" width="32.0" height="4.5" fill="#000"/>
<rect x="1564.5" y="1483.0" width="32.0" height="4.5" fill="#000"/>
<rect x="1990.8" y="1259.2" width="3.5" height="47.0" fill="#000"/>
<rect x="1976.5" y="1257.0" width="32.0" height="4.5" fill="#000"/>
<rect x="1976.5" y="1304.0" width="32.0" height="4.5" fill="#000"/>
<rect x="2194.9" y="1140.0" width="3.5" height="48.8" fill="#000"/>
<rect x="2180.7" y="1137.8" width="32.0" height="4.5" fill="#000"/>
<rect x="2180.7" y="1186.5" width="32.0" height="4.5" fill="#000"/>
<polyline points="1386.8,1499.0 1580.5,1471.0 1794.3,1420.0 1992.5,1280.0 2196.7,1132.1" fill="none" stroke="#000" stroke-width="7" stroke-linejoin="round"/>
<circle cx="1386.8" cy="1490.0" r="19.5" fill="#000"/>
<circle cx="1580.5" cy="1452.1" r="19.5" fill="#000"/>
<circle cx="1794.3" cy="1415.8" r="19.5" fill="#000"/>
<circle cx="1992.5" cy="1281.0" r="19.5" fill="#000"/>
<circle cx="2196.7" cy="1132.1" r="19.5" fill="#000"/>
<polyline points="1384.6,1505.8 1576.4,1468.0 1795.9,1423.7 1992.5,1283.9 2196.7,1165.4" fill="none" stroke="#ff0000" stroke-width="7" stroke-linejoin="round"/>
<circle cx="1384.6" cy="1505.8" r="19.5" fill="#ff0000"/>
<circle cx="1576.4" cy="1468.0" r="19.5" fill="#ff0000"/>
<circle cx="1795.9" cy="1423.7" r="19.5" fill="#ff0000"/>
<circle cx="1992.5" cy="1283.9" r="19.5" fill="#ff0000"/>
<circle cx="2196.7" cy="1165.4" r="19.5" fill="#ff0000"/>
<text transform="translate(27.61,1805.0) scale(0.9051,1)" font-size="89">D</text>
<rect x="332.0" y="1793.4" width="8.4" height="556.6" fill="#000"/>
<rect x="319.9" y="2324.0" width="859.1" height="9.0" fill="#000"/>
<rect x="319.2" y="1794.2" width="17.0" height="7.0" fill="#000"/>
<rect x="314.2" y="1925.8" width="22.0" height="7.0" fill="#000"/>
<rect x="314.2" y="2057.3" width="22.0" height="7.0" fill="#000"/>
<rect x="314.2" y="2188.9" width="22.0" height="7.0" fill="#000"/>
<rect x="394.1" y="2328.0" width="7.0" height="14.6" fill="#000"/>
<rect x="514.6" y="2328.0" width="7.0" height="14.6" fill="#000"/>
<rect x="634.3" y="2328.0" width="7.0" height="14.6" fill="#000"/>
<rect x="759.9" y="2328.0" width="7.0" height="14.6" fill="#000"/>
<rect x="879.0" y="2328.0" width="7.0" height="14.6" fill="#000"/>
<rect x="1001.0" y="2328.0" width="7.0" height="14.6" fill="#000"/>
<rect x="1120.1" y="2328.0" width="7.0" height="14.6" fill="#000"/>
<text x="251.3" y="1822.4" font-size="69.5" fill="#000">1</text>
<text x="192.4" y="2086.8" font-size="69.5" fill="#000">0.5</text>
<text x="249.9" y="2348.3" font-size="69.5" fill="#000">0</text>
<text x="379.7" y="2419.5" font-size="69.5" fill="#000">0</text>
<text x="501.6" y="2419.5" font-size="69.5" fill="#000">5</text>
<text x="599.4" y="2419.5" font-size="69.5" fill="#000">10</text>
<text x="726.5" y="2419.5" font-size="69.5" fill="#000">30</text>
<text x="846.0" y="2419.5" font-size="69.5" fill="#000">60</text>
<text x="969.3" y="2419.5" font-size="69.5" fill="#000">90</text>
<text x="1070.8" y="2419.5" font-size="69.5" fill="#000">120</text>
<text transform="translate(165.9,2377.6) rotate(-90)" font-size="69.5">Relative responses</text>
<text x="381.9" y="2277.4" font-size="69.5" fill="#000">Glc</text>
<line x1="747.8" y1="1901.3" x2="936.8" y2="1901.3" stroke="#000" stroke-width="3.5"/>
<circle cx="844.4" cy="1899.3" r="22.5" fill="#000"/>
<line x1="747.8" y1="1987.6" x2="936.8" y2="1987.6" stroke="#ff0000" stroke-width="3.5"/>
<circle cx="844.4" cy="1985.6" r="22.5" fill="#ff0000"/>
<text x="971.2" y="1920.6" font-size="69.5" fill="#000">Vehicle</text>
<text x="970.7" y="2018.4" font-size="69.5" fill="#000">ADM</text>
<rect x="399.2" y="2113.0" width="3.5" height="38.0" fill="#000"/>
<rect x="385.0" y="2110.8" width="32.0" height="4.5" fill="#000"/>
<rect x="385.0" y="2148.8" width="32.0" height="4.5" fill="#000"/>
<rect x="517.2" y="2108.0" width="3.5" height="40.0" fill="#000"/>
<rect x="503.0" y="2105.8" width="32.0" height="4.5" fill="#000"/>
<rect x="503.0" y="2145.8" width="32.0" height="4.5" fill="#000"/>
<rect x="644.2" y="2119.5" width="3.5" height="40.5" fill="#000"/>
<rect x="630.0" y="2117.2" width="32.0" height="4.5" fill="#000"/>
<rect x="630.0" y="2157.8" width="32.0" height="4.5" fill="#000"/>
<rect x="1129.2" y="2127.0" width="3.5" height="36.0" fill="#000"/>
<rect x="1115.0" y="2124.8" width="32.0" height="4.5" fill="#000"/>
<rect x="1115.0" y="2160.8" width="32.0" height="4.5" fill="#000"/>
<polyline points="401.0,2134.0 518.9,2130.0 647.0,2140.0 766.3,2125.2 888.7,2156.0 1008.6,2139.5 1131.0,2144.9" fill="none" stroke="#000" stroke-width="7" stroke-linejoin="round"/>
<circle cx="401.0" cy="2134.0" r="19.5" fill="#000"/>
<circle cx="518.9" cy="2130.0" r="19.5" fill="#000"/>
<circle cx="647.0" cy="2140.0" r="19.5" fill="#000"/>
<circle cx="766.3" cy="2125.2" r="19.5" fill="#000"/>
<circle cx="888.7" cy="2156.0" r="19.5" fill="#000"/>
<circle cx="1008.6" cy="2139.5" r="19.5" fill="#000"/>
<circle cx="1131.0" cy="2144.9" r="19.5" fill="#000"/>
<polyline points="401.4,2131.1 518.9,2128.4 647.2,2137.5 766.3,2133.4 886.6,2131.3 1007.8,2141.6 1129.8,2151.8" fill="none" stroke="#ff0000" stroke-width="7" stroke-linejoin="round"/>
<circle cx="401.4" cy="2131.1" r="19.5" fill="#ff0000"/>
<circle cx="518.9" cy="2128.4" r="19.5" fill="#ff0000"/>
<circle cx="647.2" cy="2137.5" r="19.5" fill="#ff0000"/>
<circle cx="766.3" cy="2133.4" r="19.5" fill="#ff0000"/>
<circle cx="886.6" cy="2131.3" r="19.5" fill="#ff0000"/>
<circle cx="1007.8" cy="2141.6" r="19.5" fill="#ff0000"/>
<circle cx="1129.8" cy="2151.8" r="19.5" fill="#ff0000"/>
<rect x="1388.5" y="1793.4" width="8.4" height="556.6" fill="#000"/>
<rect x="1375.1" y="2324.0" width="859.9" height="9.0" fill="#000"/>
<rect x="1375.7" y="1794.2" width="17.0" height="7.0" fill="#000"/>
<rect x="1370.7" y="1925.8" width="22.0" height="7.0" fill="#000"/>
<rect x="1370.7" y="2057.3" width="22.0" height="7.0" fill="#000"/>
<rect x="1370.7" y="2188.9" width="22.0" height="7.0" fill="#000"/>
<rect x="1445.9" y="2328.0" width="7.0" height="14.6" fill="#000"/>
<rect x="1566.1" y="2328.0" width="7.0" height="14.6" fill="#000"/>
<rect x="1686.3" y="2328.0" width="7.0" height="14.6" fill="#000"/>
<rect x="1811.1" y="2328.0" width="7.0" height="14.6" fill="#000"/>
<rect x="1933.1" y="2328.0" width="7.0" height="14.6" fill="#000"/>
<rect x="2052.4" y="2328.0" width="7.0" height="14.6" fill="#000"/>
<rect x="2172.8" y="2328.0" width="7.0" height="14.6" fill="#000"/>
<text x="1309.9" y="1817.7" font-size="69.5" fill="#000">1</text>
<text x="1251.3" y="2083.0" font-size="69.5" fill="#000">0.5</text>
<text x="1298.8" y="2348.3" font-size="69.5" fill="#000">0</text>
<text x="1430.4" y="2418.0" font-size="69.5" fill="#000">0</text>
<text x="1551.2" y="2418.0" font-size="69.5" fill="#000">5</text>
<text x="1656.9" y="2418.0" font-size="69.5" fill="#000">10</text>
<text x="1781.3" y="2418.0" font-size="69.5" fill="#000">30</text>
<text x="1900.1" y="2418.0" font-size="69.5" fill="#000">60</text>
<text x="2016.3" y="2418.0" font-size="69.5" fill="#000">90</text>
<text x="2131.2" y="2418.0" font-size="69.5" fill="#000">120</text>
<text x="1451.7" y="2276.3" font-size="69.5" fill="#000">NaCl</text>
<rect x="1443.8" y="1960.0" width="3.5" height="44.2" fill="#000"/>
<rect x="1429.6" y="1957.8" width="32.0" height="4.5" fill="#000"/>
<rect x="1429.6" y="2002.0" width="32.0" height="4.5" fill="#000"/>
<rect x="1571.7" y="1960.0" width="3.5" height="49.9" fill="#000"/>
<rect x="1557.4" y="1957.8" width="32.0" height="4.5" fill="#000"/>
<rect x="1557.4" y="2007.7" width="32.0" height="4.5" fill="#000"/>
<rect x="1701.7" y="1940.2" width="3.5" height="59.5" fill="#000"/>
<rect x="1687.4" y="1938.0" width="32.0" height="4.5" fill="#000"/>
<rect x="1687.4" y="1997.5" width="32.0" height="4.5" fill="#000"/>
<rect x="1821.5" y="1945.0" width="3.5" height="48.9" fill="#000"/>
<rect x="1807.2" y="1942.8" width="32.0" height="4.5" fill="#000"/>
<rect x="1807.2" y="1991.7" width="32.0" height="4.5" fill="#000"/>
<rect x="1944.7" y="1945.0" width="3.5" height="49.7" fill="#000"/>
<rect x="1930.4" y="1942.8" width="32.0" height="4.5" fill="#000"/>
<rect x="1930.4" y="1992.5" width="32.0" height="4.5" fill="#000"/>
<rect x="2067.8" y="1955.0" width="3.5" height="51.4" fill="#000"/>
<rect x="2053.6" y="1952.8" width="32.0" height="4.5" fill="#000"/>
<rect x="2053.6" y="2004.2" width="32.0" height="4.5" fill="#000"/>
<rect x="2192.9" y="1921.6" width="3.5" height="73.9" fill="#000"/>
<rect x="2178.7" y="1919.3" width="32.0" height="4.5" fill="#000"/>
<rect x="2178.7" y="1993.2" width="32.0" height="4.5" fill="#000"/>
<polyline points="1445.6,1979.6 1573.4,1981.8 1703.4,1963.7 1823.2,1965.4 1946.4,1969.3 2069.6,1979.0 2194.7,1953.6" fill="none" stroke="#000" stroke-width="7" stroke-linejoin="round"/>
<circle cx="1445.6" cy="1979.6" r="19.5" fill="#000"/>
<circle cx="1573.4" cy="1981.8" r="19.5" fill="#000"/>
<circle cx="1703.4" cy="1963.7" r="19.5" fill="#000"/>
<circle cx="1823.2" cy="1965.4" r="19.5" fill="#000"/>
<circle cx="1946.4" cy="1969.3" r="19.5" fill="#000"/>
<circle cx="2069.6" cy="1979.0" r="19.5" fill="#000"/>
<circle cx="2194.7" cy="1953.6" r="19.5" fill="#000"/>
<polyline points="1445.6,1953.0 1573.4,1945.8 1703.4,1971.2 1822.0,1949.7 1947.6,1943.9 2070.7,1952.5 2193.5,1959.5" fill="none" stroke="#ff0000" stroke-width="7" stroke-linejoin="round"/>
<circle cx="1445.6" cy="1953.0" r="19.5" fill="#ff0000"/>
<circle cx="1573.4" cy="1945.8" r="19.5" fill="#ff0000"/>
<circle cx="1703.4" cy="1971.2" r="19.5" fill="#ff0000"/>
<circle cx="1822.0" cy="1949.7" r="19.5" fill="#ff0000"/>
<circle cx="1947.6" cy="1943.9" r="19.5" fill="#ff0000"/>
<circle cx="2070.7" cy="1952.5" r="19.5" fill="#ff0000"/>
<circle cx="2193.5" cy="1959.5" r="19.5" fill="#ff0000"/>
<text x="801.7" y="2539.2" font-size="69.5" fill="#000">Time after ADM admin. (min)</text>
<text transform="translate(29.89,2598.0) scale(0.8912,1)" font-size="89">E</text>
<rect x="354.0" y="2628.0" width="8.4" height="533.5" fill="#000"/>
<rect x="341.0" y="3135.0" width="799.8" height="9.7" fill="#000"/>
<rect x="337.0" y="3061.3" width="21.0" height="7.0" fill="#000"/>
<rect x="337.0" y="2989.1" width="21.0" height="7.0" fill="#000"/>
<rect x="337.0" y="2916.9" width="21.0" height="7.0" fill="#000"/>
<rect x="337.0" y="2844.7" width="21.0" height="7.0" fill="#000"/>
<rect x="337.0" y="2772.5" width="21.0" height="7.0" fill="#000"/>
<rect x="337.0" y="2700.3" width="21.0" height="7.0" fill="#000"/>
<rect x="341.0" y="2628.1" width="17.0" height="7.0" fill="#000"/>
<rect x="406.0" y="3140.0" width="7.0" height="15.5" fill="#000"/>
<rect x="534.8" y="3140.0" width="7.0" height="15.5" fill="#000"/>
<rect x="665.8" y="3140.0" width="7.0" height="15.5" fill="#000"/>
<rect x="801.7" y="3140.0" width="7.0" height="15.5" fill="#000"/>
<rect x="938.6" y="3140.0" width="7.0" height="15.5" fill="#000"/>
<rect x="1066.4" y="3140.0" width="7.0" height="15.5" fill="#000"/>
<text x="188.4" y="2652.4" font-size="69.5" fill="#000">0.7</text>
<text x="187.9" y="2722.6" font-size="69.5" fill="#000">0.6</text>
<text x="187.3" y="2796.0" font-size="69.5" fill="#000">0.5</text>
<text x="185.8" y="2867.0" font-size="69.5" fill="#000">0.4</text>
<text x="187.9" y="2940.9" font-size="69.5" fill="#000">0.3</text>
<text x="188.2" y="3015.1" font-size="69.5" fill="#000">0.2</text>
<text x="191.1" y="3087.0" font-size="69.5" fill="#000">0.1</text>
<text x="247.0" y="3158.7" font-size="69.5" fill="#000">0</text>
<text x="329.9" y="3234.0" font-size="69.5" fill="#000">Cont.</text>
<text x="522.0" y="3233.3" font-size="69.5" fill="#000">9</text>
<text x="652.6" y="3233.3" font-size="69.5" fill="#000">8</text>
<text x="788.8" y="3233.3" font-size="69.5" fill="#000">7</text>
<text x="925.1" y="3233.3" font-size="69.5" fill="#000">6</text>
<text x="1051.7" y="3233.3" font-size="69.5" fill="#000">5</text>
<text transform="translate(155.9,3166.7) rotate(-90)" font-size="69.5">Relative responses</text>
<text x="401.9" y="3084.6" font-size="69.5" fill="#000">Glc</text>
<rect x="559.2" y="2729.0" width="3.5" height="39.0" fill="#000"/>
<rect x="545.0" y="2726.8" width="32.0" height="4.5" fill="#000"/>
<rect x="545.0" y="2765.8" width="32.0" height="4.5" fill="#000"/>
<rect x="425.6" y="2745.0" width="3.5" height="33.0" fill="#000"/>
<rect x="411.4" y="2742.8" width="32.0" height="4.5" fill="#000"/>
<rect x="411.4" y="2775.8" width="32.0" height="4.5" fill="#000"/>
<polyline points="426.6,2758.1 560.9,2750.1 689.8,2778.5 819.7,2857.5 952.9,2872.0 1086.0,2872.0" fill="none" stroke="#000" stroke-width="7" stroke-linejoin="round"/>
<circle cx="426.6" cy="2758.1" r="18.8" fill="#000"/>
<circle cx="560.9" cy="2750.1" r="18.8" fill="#000"/>
<circle cx="689.8" cy="2778.5" r="18.8" fill="#000"/>
<circle cx="819.7" cy="2857.5" r="18.8" fill="#000"/>
<circle cx="952.9" cy="2872.0" r="18.8" fill="#000"/>
<circle cx="1086.0" cy="2872.0" r="18.8" fill="#000"/>
<text x="787.3" y="2821.5" font-size="66" fill="#000">***</text>
<text x="918.8" y="2845.7" font-size="66" fill="#000">***</text>
<text x="1048.0" y="2845.7" font-size="66" fill="#000">***</text>
<rect x="1410.5" y="2621.0" width="8.5" height="545.0" fill="#000"/>
<rect x="1397.0" y="3141.0" width="860.9" height="9.7" fill="#000"/>
<rect x="1396.2" y="2621.5" width="18.5" height="7.0" fill="#000"/>
<rect x="1393.1" y="2750.5" width="21.6" height="7.0" fill="#000"/>
<rect x="1393.1" y="2879.5" width="21.6" height="7.0" fill="#000"/>
<rect x="1393.1" y="3008.5" width="21.6" height="7.0" fill="#000"/>
<rect x="1466.5" y="3146.0" width="7.0" height="15.0" fill="#000"/>
<rect x="1594.9" y="3146.0" width="7.0" height="15.0" fill="#000"/>
<rect x="1726.8" y="3146.0" width="7.0" height="15.0" fill="#000"/>
<rect x="1862.2" y="3146.0" width="7.0" height="15.0" fill="#000"/>
<rect x="1999.6" y="3146.0" width="7.0" height="15.0" fill="#000"/>
<rect x="2126.0" y="3146.0" width="7.0" height="15.0" fill="#000"/>
<text x="1303.2" y="2651.1" font-size="69.5" fill="#000">1</text>
<text x="1244.7" y="2908.5" font-size="69.5" fill="#000">0.5</text>
<text x="1300.8" y="3164.6" font-size="69.5" fill="#000">0</text>
<text x="1385.5" y="3241.5" font-size="69.5" fill="#000">Cont.</text>
<text x="1584.7" y="3241.5" font-size="69.5" fill="#000">9</text>
<text x="1709.7" y="3241.5" font-size="69.5" fill="#000">8</text>
<text x="1845.6" y="3241.5" font-size="69.5" fill="#000">7</text>
<text x="1983.7" y="3241.5" font-size="69.5" fill="#000">6</text>
<text x="2111.4" y="3241.5" font-size="69.5" fill="#000">5</text>
<text x="1471.8" y="3097.2" font-size="69.5" fill="#000">NaCl</text>
<rect x="1744.8" y="2768.0" width="3.5" height="38.0" fill="#000"/>
<rect x="1730.5" y="2765.8" width="32.0" height="4.5" fill="#000"/>
<rect x="1730.5" y="2803.8" width="32.0" height="4.5" fill="#000"/>
<rect x="2008.8" y="2766.5" width="3.5" height="39.5" fill="#000"/>
<rect x="1994.5" y="2764.2" width="32.0" height="4.5" fill="#000"/>
<rect x="1994.5" y="2803.8" width="32.0" height="4.5" fill="#000"/>
<polyline points="1483.7,2771.1 1614.8,2752.1 1746.0,2787.0 1878.3,2761.7 2011.0,2787.0 2139.7,2753.7" fill="none" stroke="#000" stroke-width="7" stroke-linejoin="round"/>
<circle cx="1483.7" cy="2771.1" r="19" fill="#000"/>
<circle cx="1614.8" cy="2752.1" r="19" fill="#000"/>
<circle cx="1746.0" cy="2787.0" r="19" fill="#000"/>
<circle cx="1878.3" cy="2761.7" r="19" fill="#000"/>
<circle cx="2011.0" cy="2787.0" r="19" fill="#000"/>
<circle cx="2139.7" cy="2753.7" r="19" fill="#000"/>
<text x="487.1" y="3356.1" font-size="69.5" fill="#000">AM (22-52) Concentration (-log[10] mol/kg b.w.)</text>
<rect x="1101.2" y="97.5" width="13.3" height="9.7" fill="#fff"/>
<rect x="1124.4" y="97.5" width="12.4" height="9.7" fill="#fff"/>
<rect x="1160.0" y="260.5" width="13.3" height="9.7" fill="#fff"/>
<rect x="1183.2" y="260.5" width="12.4" height="9.7" fill="#fff"/>
<rect x="250.4" y="1045.7" width="13.3" height="9.7" fill="#fff"/>
<rect x="273.5" y="1045.7" width="12.4" height="9.7" fill="#fff"/>
<rect x="266.3" y="1615.8" width="13.3" height="9.7" fill="#fff"/>
<rect x="289.5" y="1615.8" width="12.4" height="9.7" fill="#fff"/>
<rect x="691.4" y="1615.2" width="13.3" height="9.7" fill="#fff"/>
<rect x="714.6" y="1615.2" width="12.4" height="9.7" fill="#fff"/>
<rect x="1079.5" y="1617.1" width="13.3" height="9.7" fill="#fff"/>
<rect x="1102.7" y="1617.1" width="12.4" height="9.7" fill="#fff"/>
<rect x="1304.4" y="1390.0" width="13.3" height="9.7" fill="#fff"/>
<rect x="1327.6" y="1390.0" width="12.4" height="9.7" fill="#fff"/>
<rect x="1312.5" y="1615.3" width="13.3" height="9.7" fill="#fff"/>
<rect x="1335.7" y="1615.3" width="12.4" height="9.7" fill="#fff"/>
<rect x="1742.5" y="1612.5" width="13.3" height="9.7" fill="#fff"/>
<rect x="1765.7" y="1612.5" width="12.4" height="9.7" fill="#fff"/>
<rect x="2124.5" y="1612.5" width="13.3" height="9.7" fill="#fff"/>
<rect x="2147.7" y="1612.5" width="12.4" height="9.7" fill="#fff"/>
<rect x="254.1" y="1813.9" width="13.3" height="9.7" fill="#fff"/>
<rect x="277.2" y="1813.9" width="12.4" height="9.7" fill="#fff"/>
<rect x="602.2" y="2411.0" width="13.3" height="9.7" fill="#fff"/>
<rect x="625.4" y="2411.0" width="12.4" height="9.7" fill="#fff"/>
<rect x="1073.6" y="2411.0" width="13.3" height="9.7" fill="#fff"/>
<rect x="1096.8" y="2411.0" width="12.4" height="9.7" fill="#fff"/>
<rect x="1312.7" y="1809.2" width="13.3" height="9.7" fill="#fff"/>
<rect x="1335.9" y="1809.2" width="12.4" height="9.7" fill="#fff"/>
<rect x="1659.7" y="2409.5" width="13.3" height="9.7" fill="#fff"/>
<rect x="1682.9" y="2409.5" width="12.4" height="9.7" fill="#fff"/>
<rect x="2134.0" y="2409.5" width="13.3" height="9.7" fill="#fff"/>
<rect x="2157.2" y="2409.5" width="12.4" height="9.7" fill="#fff"/>
<rect x="251.8" y="3078.5" width="13.3" height="9.7" fill="#fff"/>
<rect x="274.9" y="3078.5" width="12.4" height="9.7" fill="#fff"/>
<rect x="1306.0" y="2642.6" width="13.3" height="9.7" fill="#fff"/>
<rect x="1329.2" y="2642.6" width="12.4" height="9.7" fill="#fff"/>
<rect x="1524.6" y="3347.6" width="13.3" height="9.7" fill="#fff"/>
<rect x="1547.7" y="3347.6" width="12.4" height="9.7" fill="#fff"/>
</svg></body></html>
